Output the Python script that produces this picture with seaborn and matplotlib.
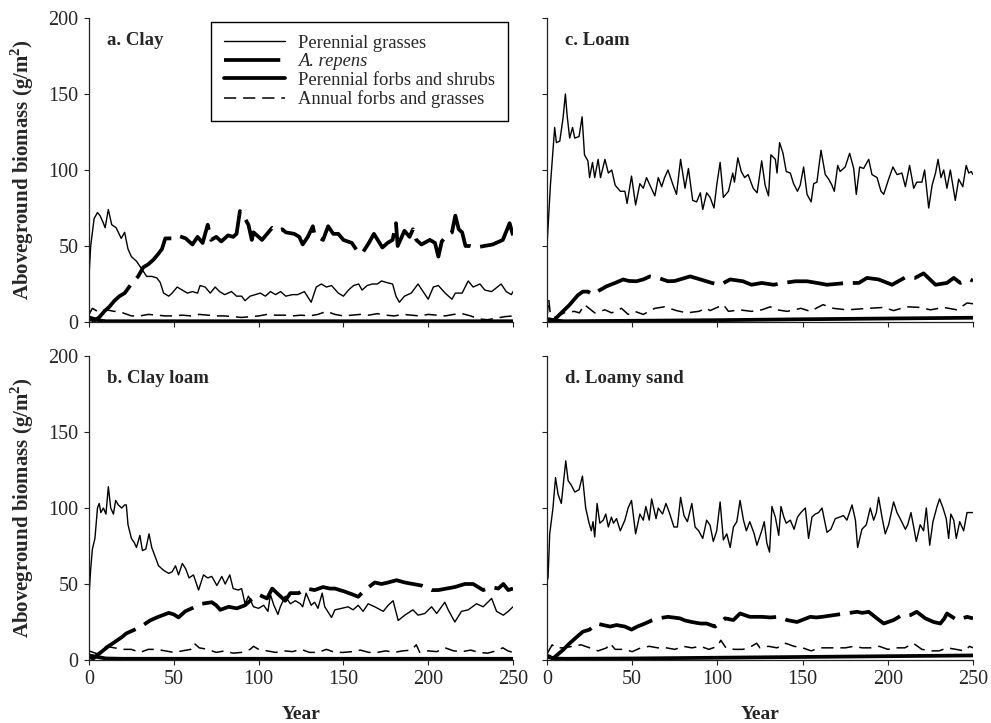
import matplotlib
matplotlib.use("Agg")
import matplotlib.pyplot as plt
from matplotlib.lines import Line2D
import pandas as pd
import seaborn as sns

# ---- data: aboveground biomass (g/m^2) by year, four soil textures ----
CLAY_GRASS = [(0, 30), (1, 50), (3, 68), (5, 72), (6.5, 70), (8.5, 65), (9.5, 62), (11.4, 74), (13.4, 64), (16, 62),
              (19, 55), (21, 59), (23, 48), (25, 43), (28, 40), (31, 35), (34, 30), (37, 30), (40, 29), (42, 26),
              (44, 19), (47, 17), (49, 19), (52, 23), (55, 21), (58, 19), (61, 20), (64, 19), (65.5, 24), (68.5, 23),
              (71.5, 19), (74.4, 23), (77, 20), (80, 18), (84, 20), (87, 17), (90, 17), (92, 14), (95, 17), (98, 18),
              (101, 19), (104, 17), (107, 20), (110, 18), (113, 20), (116, 17), (120, 18), (123, 18), (127, 20), (131, 13),
              (134, 23), (137, 25), (140, 23), (143, 24), (147, 19), (150, 17), (153, 21), (156, 24), (159, 25), (161, 21),
              (164, 24), (167, 25), (170, 25), (172.5, 27), (175.4, 26), (179, 25), (181, 17), (183, 13), (186, 17), (190, 19),
              (194, 25), (197, 20), (200, 15), (203, 23), (206, 24), (210, 19), (214, 15), (216, 19), (220, 19), (223.6, 27),
              (226.5, 23), (230.5, 25), (233.4, 21), (237.4, 20), (243, 25), (246, 20), (249, 18), (250, 20)]
CLAY_REPENS = [(0, 2), (3, 1), (6, 3), (9, 7), (12, 10), (15, 14), (18, 17), (21, 19), (25, 25), (29, 30),
               (32, 36), (35, 38), (38, 41), (41, 45), (43, 48), (45, 55), (49, 55), (52, 57), (57, 55), (61, 51),
               (64, 56), (67, 52), (70, 64), (72, 54), (75, 56), (78, 53), (82, 57), (85, 56), (87, 58), (89, 73),
               (92, 68), (94, 64), (96, 54), (97, 59), (102, 54), (105, 58), (108, 62), (111, 60), (114, 61), (116, 59),
               (121, 58), (124, 56), (126, 51), (129, 56), (132, 63), (133, 57), (138, 54), (141, 63), (144, 58), (147, 58),
               (150, 54), (155, 52), (158, 47), (161, 45), (165, 52), (168, 58), (173, 49), (176, 52), (179, 54), (181, 65),
               (182, 50), (186, 60), (189, 56), (191, 61), (193, 54), (196, 51), (201, 54), (204, 52), (206, 43), (208, 53),
               (211, 57), (214, 59), (216, 70), (218, 61), (220, 59), (222, 50), (225, 50), (228, 49), (233, 50), (238, 51),
               (244, 54), (248, 65), (250, 57)]
CLAY_FORBS = [(0, 3), (3, 2), (6, 1), (10, 0.5), (50, 0.5), (100, 0.5), (150, 0.5), (200, 0.5), (250, 0.5)]
CLAY_ANNUAL = [(0, 5), (2, 9), (5, 7), (10, 8), (15, 7), (20, 6), (25, 4), (30, 4), (35, 5), (40, 4.5),
               (45, 4), (50, 4), (55, 4.5), (60, 4), (65, 5), (70, 4.5), (75, 4), (80, 4), (85, 3.5), (90, 3),
               (95, 3.5), (100, 4), (105, 5), (110, 4.5), (115, 4.5), (120, 4), (125, 4.5), (130, 4), (135, 5), (140, 7),
               (145, 5), (150, 4), (155, 4.5), (160, 5), (165, 4.5), (170, 5.5), (175, 4.5), (180, 4), (185, 5), (190, 4.5),
               (195, 4), (200, 5), (205, 4.5), (210, 4), (215, 5), (220, 5.5), (225, 4), (230, 2), (235, 1.5), (240, 2.5),
               (245, 3.5), (250, 4)]

CLAYLOAM_GRASS = [(0, 42), (1, 60), (2, 73), (3.5, 80), (5, 100), (6, 103), (7, 97), (8.5, 100), (10, 96), (11.4, 114),
                  (12.8, 100), (14.4, 96), (15.7, 105), (17.3, 102), (19.3, 100), (21, 102), (22, 102), (23, 89), (25, 80), (26.8, 77),
                  (28, 74), (30, 82), (31.5, 72), (33.5, 73), (35.4, 83), (37, 74), (39, 68), (41, 62), (44, 59), (47, 57),
                  (49, 58), (51, 62), (52.8, 56), (55, 63.5), (57, 60), (59, 54), (61.6, 56), (64.6, 46), (67.5, 56), (70, 54),
                  (72.4, 55), (75.4, 49), (78.3, 55), (80.3, 50), (83, 56), (85, 47), (88, 46), (90, 47), (92, 37), (94, 42),
                  (97, 35), (100, 34), (103, 36), (105.5, 32), (107, 43), (109, 36), (111.4, 30), (112.8, 35), (115.7, 42), (118.7, 37),
                  (121.7, 39), (124.6, 37), (126, 35), (128, 44), (131, 36), (133, 38), (135, 34), (137.5, 44), (139, 35), (143, 28),
                  (145, 33), (149, 34), (152.8, 35), (155.7, 33), (158.7, 36), (161.6, 32), (164.6, 37), (168.5, 35), (173.5, 32), (176.4, 36),
                  (179.3, 39), (182.3, 26), (186.2, 29.5), (191, 33), (194, 29.5), (198, 30.6), (202, 35), (205, 30.6), (209.8, 38), (211.8, 33),
                  (215.7, 25), (219.6, 32), (223.6, 33), (228.5, 37), (232.4, 35), (237.4, 40.5), (240.3, 32), (244.3, 29.5), (247.2, 32), (250, 35)]
CLAYLOAM_REPENS = [(0, 2), (2.5, 1), (7.5, 5.5), (11.4, 9), (15.4, 12), (19.3, 15), (22, 17.5), (25, 19), (29, 21), (32, 23),
                   (36, 26), (40, 28), (47, 31), (50, 30), (52.8, 28), (56.7, 32), (62.6, 35), (66.5, 37), (72.4, 38), (75, 36),
                   (77.4, 33), (82.3, 35), (87.2, 34), (92, 36), (96, 40), (100, 43), (105, 40.5), (108, 47), (111.8, 43), (115.7, 39),
                   (118.7, 44), (123.6, 44), (128.2, 47), (133, 46), (138, 48), (142, 47), (145, 47), (150.8, 45), (155.7, 43), (158.7, 41.6),
                   (162.6, 46), (168.5, 51), (172.5, 50), (176.4, 51), (181.3, 52.5), (186.2, 51), (191, 50), (196, 49), (202, 46), (206, 46),
                   (210.8, 47), (215.7, 48), (221.6, 50), (226.5, 50), (232.4, 46), (237.4, 48), (241.3, 47), (244.3, 50), (247.2, 46), (250, 47)]
CLAYLOAM_FORBS = [(0, 3), (5, 2), (10, 1), (20, 0.8), (100, 0.8), (250, 0.8)]
CLAYLOAM_ANNUAL = [(0, 6), (5, 4), (10, 9), (15, 8), (20, 7), (25, 7), (30, 5), (35, 7), (40, 7), (45, 6),
                   (50, 5), (55, 6), (60, 7), (62, 11), (65, 8), (70, 7), (75, 5), (80, 6), (85, 4.5), (90, 5),
                   (95, 7), (97, 9), (100, 7), (105, 6), (110, 5), (115, 6), (120, 5.5), (125, 7), (130, 5), (135, 5),
                   (140, 7), (145, 5), (150, 5), (155, 5.5), (160, 6.5), (165, 5), (170, 5), (175, 6), (180, 5), (185, 6),
                   (190, 6.5), (193, 10), (195, 5), (200, 6), (205, 5.5), (210, 8), (215, 6), (220, 5.5), (225, 6.5), (230, 5),
                   (235, 4.5), (240, 6), (244, 8), (247, 6), (250, 5)]

LOAM_GRASS = [(0, 50), (2, 90), (4.5, 128), (5.5, 118), (7.5, 119), (9.4, 134), (10.8, 150), (11.8, 136), (13.3, 121), (15, 128),
              (16.3, 121), (18.8, 122), (20.6, 135), (22, 110), (24, 106), (25, 95), (26.7, 105), (28, 95), (30, 107), (31.4, 95),
              (34, 107), (36, 98), (38, 100), (40, 90), (43, 86), (45.7, 86), (47, 78), (49.6, 96), (52, 77), (54.5, 91),
              (56.5, 88), (58.4, 95), (60.4, 90), (63.3, 83), (65.3, 95), (67.3, 89), (69, 95), (71, 100), (74, 90), (76, 84),
              (78.4, 107), (81, 88), (83, 101), (85.5, 80), (87.8, 79), (90, 85), (91.4, 74), (93.7, 85), (95.7, 82), (98, 75),
              (99.6, 90), (101.6, 105), (103.5, 82), (106.5, 86), (109, 98), (110, 92), (112, 108), (114, 99), (116, 95), (118, 97),
              (121, 88), (123.3, 85), (126, 106), (128, 90), (130, 83), (131.4, 110), (134, 107), (135, 98), (136.5, 118), (138.5, 111),
              (140.4, 99), (142.8, 98), (144.7, 91), (147, 86), (148.6, 90), (150.6, 102), (152.6, 84), (155, 79), (156.5, 91), (158.4, 92),
              (160.8, 113), (163.3, 97), (165.3, 94), (167.2, 90), (168.6, 86), (170.6, 103), (172, 99), (175, 102), (177.6, 111), (180, 101),
              (181.5, 84), (183.5, 102), (185.8, 101), (188.8, 107), (190.7, 97), (193.7, 95), (196, 86), (197.6, 84), (200.5, 94), (203, 102),
              (205.4, 97), (208.3, 98), (210.3, 89), (212.8, 103), (215.2, 88), (217, 92), (220, 92), (221.6, 100), (224, 75), (226, 90),
              (228, 98), (229.5, 107), (231.2, 95), (232.8, 100), (234.7, 88), (236.7, 100), (239.6, 80), (241.6, 94), (244, 89), (246, 103),
              (247.5, 98), (249, 99), (250, 97)]
LOAM_REPENS = [(0, 1), (3, 0), (7.5, 5), (13, 11), (18, 17.5), (21, 20), (24, 20), (27, 18), (31, 21), (35, 23.5),
               (40, 25.7), (44.7, 28), (48, 27), (52.5, 26.8), (56.5, 28), (60.4, 30), (65.3, 29), (71, 26.8), (75, 27), (78, 28),
               (84, 30), (90, 28), (96.7, 25.7), (101.6, 24.5), (107.5, 28), (115, 26.8), (120, 24.5), (126, 25.7), (133, 24.5), (139, 25.7),
               (145.7, 26.8), (152.6, 26.8), (158.4, 25.7), (164.3, 24.5), (176, 25.7), (183, 25.7), (187.8, 29), (194.6, 28), (202.5, 24.5), (210.3, 29.4),
               (216, 29), (221, 32), (228, 24.5), (234.7, 25.7), (238.7, 29), (242.6, 25.7), (248.4, 28), (250, 27)]
LOAM_FORBS = [(0, 2), (5, 1), (10, 0.5), (50, 0.8), (100, 1.2), (150, 1.8), (200, 2.3), (250, 2.8)]
LOAM_ANNUAL = [(0, 3), (1, 15), (2, 5), (5, 3), (10, 6), (16, 7), (19, 6), (22, 11.4), (28, 6), (34, 8),
               (38, 6), (43.7, 9), (47.6, 5), (51.5, 7), (56.5, 5), (63.3, 9), (69, 10), (76, 7.5), (82, 6), (89, 7),
               (93.7, 9), (95.7, 7.5), (103.5, 11.4), (106.5, 7), (113, 8), (120, 7), (126, 8), (131, 10), (135, 8), (141, 7),
               (149, 9), (154.5, 7), (162, 11.4), (168, 9), (176, 8), (186, 8.8), (197.6, 9.6), (203.4, 7.5), (211, 10), (219, 9.6),
               (225, 8), (232.8, 9.6), (240.6, 8), (246.5, 12.5), (250, 12)]

SAND_GRASS = [(0, 52), (0.6, 54), (1.6, 83), (3.5, 100), (5, 120), (6.5, 109), (8.4, 103), (9.8, 118), (11, 131), (12.4, 118),
              (14.3, 115), (16.3, 110.5), (18.8, 112), (20.8, 121), (22.7, 100), (24.7, 90), (26, 85), (27, 91), (28, 81), (29.4, 103),
              (31, 90), (33, 92), (34.5, 96), (36, 87.5), (37.8, 94), (39, 90), (40.8, 93), (43, 85), (45.7, 92), (47.6, 100),
              (49.6, 105), (52, 83), (54.5, 96), (56.5, 92), (58, 101), (60, 92), (61.4, 106), (64, 93), (65.3, 100), (67.8, 96),
              (69.8, 103), (71.8, 97), (74.5, 87.5), (76.5, 87.5), (78.4, 107), (80.4, 95), (82.4, 91), (85, 103), (86.9, 87.5), (89, 85),
              (91.4, 80), (93.7, 92), (95.7, 88.6), (97.6, 78), (99.6, 85), (101.6, 104), (103.5, 79), (105.5, 83), (107.5, 74), (109.4, 87.5),
              (111.4, 91), (113.3, 105), (115.3, 92), (117, 85), (119, 91), (121.6, 83), (123.2, 75.5), (126, 85), (127.5, 91), (129, 77),
              (130.6, 71), (132, 101), (134, 94), (136, 82), (137.3, 101), (139, 94), (140.4, 90), (142.8, 92), (145, 86), (147, 94),
              (149, 97), (151.6, 100), (153.5, 80), (155.5, 94), (157.4, 96), (159.4, 97), (161.4, 100), (164.3, 84), (166.6, 86), (169.2, 93),
              (171.7, 94), (174, 95), (176, 92), (179, 102), (181, 92), (182.3, 74), (184.8, 86), (187.4, 89), (189.7, 100), (191.7, 92),
              (193.3, 97), (194.6, 107), (196.6, 94), (198.5, 83), (200.5, 89), (203.4, 104), (205.4, 97), (207.7, 92), (210.3, 86), (211.7, 89),
              (213.6, 97), (215.6, 85), (216.7, 78), (219, 89), (221, 85), (222.6, 100), (224.6, 75.5), (226.5, 91), (228.9, 101), (230.4, 106),
              (232.4, 100), (234.3, 93), (235.7, 80), (237, 96), (238.7, 92), (240.2, 80), (242.2, 91), (244.5, 85), (246.5, 97), (248.4, 97),
              (250, 97)]
SAND_REPENS = [(0, 3), (3.5, 1), (9.4, 6.6), (13.3, 11), (17.3, 15), (21, 18.6), (25, 20), (29, 24), (33, 23), (37, 22),
               (40.8, 23), (45.7, 22), (49.6, 20), (53, 22), (57.5, 24), (61.4, 26), (65.3, 27.4), (71, 28.4), (78, 27.4), (81, 26),
               (85, 25), (90, 24), (93.7, 24), (98.6, 22), (104.5, 27.4), (109.4, 26.3), (113.3, 30.6), (119, 28.4), (126, 28.4), (131, 28),
               (136, 28.4), (140.8, 26.3), (146.7, 25), (154.5, 28.4), (158, 28), (161.4, 28.4), (168.2, 29.5), (175, 30.6), (182, 31.7), (185, 31),
               (188.8, 31.7), (193.6, 27.4), (197.6, 24), (203.4, 26.3), (208.3, 29.5), (211, 29), (213.2, 29.5), (217, 31.7), (222, 27.4), (226.9, 25),
               (230.8, 24), (233, 27), (234.7, 30.6), (240.6, 26.3), (246.5, 28.4), (250, 27.4)]
SAND_FORBS = [(0, 2), (5, 1), (10, 0.8), (50, 1), (100, 1.5), (150, 2), (200, 2.5), (250, 3)]
SAND_ANNUAL = [(0, 4), (3, 10), (5, 8), (10, 8), (15, 9), (20, 10), (25, 8), (30, 6), (35, 8), (37, 11),
               (40, 7), (45, 7), (50, 5.5), (55, 8), (60, 9), (65, 8), (70, 8), (75, 7), (80, 9), (85, 8),
               (90, 9), (95, 7), (100, 9), (102, 13), (105, 8), (110, 7), (115, 7), (120, 9), (123, 11), (125, 8),
               (130, 9), (135, 8), (140, 11), (145, 9), (150, 8), (155, 6), (160, 8), (165, 8), (170, 8), (175, 8),
               (180, 9), (185, 8), (190, 8), (195, 9), (200, 7), (205, 8), (210, 8), (215, 11), (220, 7), (225, 6),
               (230, 6), (235, 8), (240, 7), (245, 6), (248, 9), (250, 8)]

SERIES_LABELS = ["Perennial grasses", "A. repens", "Perennial forbs and shrubs", "Annual forbs and grasses"]
PANEL_TITLES = ["a. Clay", "b. Clay loam", "c. Loam", "d. Loamy sand"]
X_TICKS = [0, 50, 100, 150, 200, 250]
Y_TICKS = [0, 50, 100, 150, 200]

PANELS = [
    (CLAY_GRASS, CLAY_REPENS, CLAY_FORBS, CLAY_ANNUAL),
    (CLAYLOAM_GRASS, CLAYLOAM_REPENS, CLAYLOAM_FORBS, CLAYLOAM_ANNUAL),
    (LOAM_GRASS, LOAM_REPENS, LOAM_FORBS, LOAM_ANNUAL),
    (SAND_GRASS, SAND_REPENS, SAND_FORBS, SAND_ANNUAL),
]

# ---- styling ----
sns.set_theme(style="ticks")
plt.rcParams["font.family"] = ["Liberation Serif", "DejaVu Serif"]
plt.rcParams["mathtext.fontset"] = "custom"
plt.rcParams["mathtext.rm"] = "Liberation Serif"
plt.rcParams["mathtext.bf"] = "Liberation Serif:bold"
plt.rcParams["axes.edgecolor"] = "#222222"

LINE_STYLES = [
    dict(lw=1.0, linestyle="-"),                 # perennial grasses
    dict(lw=2.7, linestyle=(0, (15, 2.6))),      # A. repens
    dict(lw=2.7, linestyle="-"),                 # perennial forbs and shrubs
    dict(lw=1.1, linestyle=(0, (8, 4.5))),       # annual forbs and grasses
]

fig = plt.figure(figsize=(9.91, 7.23), dpi=100)
W, H = 991, 723
def px_axes(x0, y_top, x1, y_bot):
    return fig.add_axes([x0 / W, 1 - y_bot / H, (x1 - x0) / W, (y_bot - y_top) / H])

axes = [
    px_axes(89, 18, 513, 322),
    px_axes(89, 356, 513, 660),
    px_axes(547, 18, 973, 322),
    px_axes(547, 356, 973, 660),
]

for i, (ax, series, title) in enumerate(zip(axes, PANELS, PANEL_TITLES)):
    # thin series drawn last so they stay visible over the thick ones
    for k in [2, 1, 3, 0]:
        df = pd.DataFrame(series[k], columns=["year", "biomass"])
        sns.lineplot(data=df, x="year", y="biomass", ax=ax, color="black",
                     estimator=None, **LINE_STYLES[k])
    ax.set_xlim(0, 250)
    ax.set_ylim(0, 200)
    ax.set_xticks(X_TICKS)
    ax.set_yticks(Y_TICKS)
    ax.tick_params(axis="both", direction="out", length=3.5, width=0.8,
                   color="#222222", labelsize=14.5, pad=4)
    for side in ["left", "bottom"]:
        ax.spines[side].set_linewidth(0.9)
    sns.despine(ax=ax)
    ax.text(0.043, 0.925, title, transform=ax.transAxes, fontsize=13.5,
            fontweight="bold", va="center", ha="left")
    left_col = i < 2
    bottom_row = i in (1, 3)
    if left_col:
        ax.set_ylabel(r"Aboveground biomass (g/m$^{\mathbf{2}}$)", fontsize=15,
                      fontweight="bold", labelpad=9)
    else:
        ax.set_ylabel("")
        ax.tick_params(axis="y", labelleft=False)
    if bottom_row:
        ax.set_xlabel("Year", fontsize=14, fontweight="bold", labelpad=12)
    else:
        ax.set_xlabel("")
        ax.tick_params(axis="x", labelbottom=False)

handles = [Line2D([], [], color="black", **st) for st in LINE_STYLES]
leg = axes[0].legend(handles, SERIES_LABELS, loc="upper left",
                     bbox_to_anchor=(0.288, 0.987), fontsize=13.3, frameon=True,
                     fancybox=False, framealpha=1, edgecolor="black",
                     handlelength=3.3, handletextpad=0.75, labelspacing=0.09,
                     borderpad=0.68, borderaxespad=0)
leg.get_frame().set_linewidth(1.0)
leg.get_texts()[1].set_fontstyle("italic")

fig.savefig("out.png", dpi=100, facecolor="white")
